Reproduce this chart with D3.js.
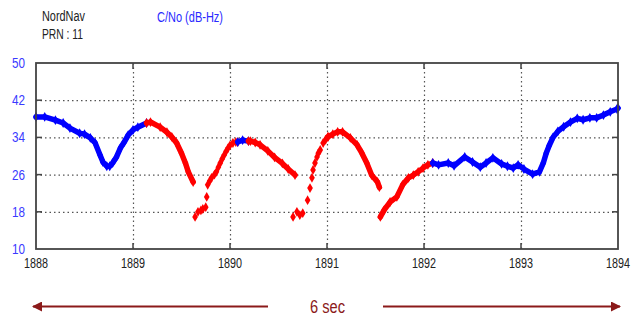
<html>
<script src="https://d3js.org/d3.v7.min.js"></script>
<style>
    body { margin: 0; background: #fff; }
    text { font-family: Arial, "Liberation Sans", sans-serif; }
    .grid line { stroke: #555; stroke-width: 1.2; stroke-dasharray: 1.5,3; }
    .grid path { stroke-width: 0; }
</style>
<body>
<svg id="chart" width=637 height=316></svg>
<script>
// C/No of PRN 11 over time (s); each segment keeps its colour
var xTicks = [1888, 1889, 1890, 1891, 1892, 1893, 1894];
var yTicks = [10, 18, 26, 34, 42, 50];

var blue1T = [1888.0, 1888.09, 1888.2, 1888.28, 1888.35, 1888.45, 1888.5, 1888.56, 1888.61, 1888.66, 1888.69, 1888.73, 1888.76, 1888.79, 1888.83, 1888.87, 1888.91, 1888.95, 1889.0, 1889.05, 1889.14];
var blue1V = [38.4, 38.4, 37.7, 37.1, 36.0, 34.9, 34.7, 33.9, 32.8, 30.2, 28.7, 27.8, 27.8, 28.5, 29.8, 31.7, 33.0, 34.5, 35.6, 36.2, 37.1];

var red1T = [1889.14, 1889.18, 1889.28, 1889.35, 1889.4, 1889.45, 1889.5, 1889.54, 1889.57, 1889.62];
var red1V = [37.1, 37.3, 36.2, 35.1, 34.1, 32.8, 30.6, 28.5, 26.6, 24.4];

var red1LowT = [1889.64, 1889.67, 1889.7, 1889.72, 1889.75, 1889.76];
var red1LowV = [16.9, 18.0, 18.3, 18.6, 19.0, 21.2];

var red1UpT = [1889.77, 1889.79, 1889.81, 1889.84, 1889.86, 1889.88, 1889.9, 1889.92, 1889.94, 1889.96, 1889.98, 1890.0, 1890.03, 1890.06, 1890.08];
var red1UpV = [23.8, 24.6, 25.3, 26.0, 26.6, 27.6, 28.5, 29.4, 30.2, 31.0, 31.7, 32.3, 32.8, 33.0, 33.0];

var blue2T = [1890.08, 1890.13, 1890.19];
var blue2V = [33.0, 33.4, 33.2];

var red2T = [1890.19, 1890.21, 1890.26, 1890.31, 1890.39, 1890.46, 1890.54, 1890.6, 1890.67];
var red2V = [33.2, 33.2, 32.9, 32.4, 31.1, 29.7, 28.4, 27.2, 25.9];

var red2LowT = [1890.65, 1890.69, 1890.72, 1890.75, 1890.8, 1890.825, 1890.845, 1890.856, 1890.876, 1890.897, 1890.91, 1890.93, 1890.96, 1890.985, 1891.01];
var red2LowV = [16.9, 18.0, 17.3, 17.7, 20.5, 23.1, 25.3, 27.0, 28.5, 29.8, 30.6, 31.3, 32.8, 33.5, 34.1];

var red3T = [1891.01, 1891.06, 1891.11, 1891.16, 1891.24, 1891.31, 1891.36, 1891.41, 1891.46, 1891.52, 1891.54];
var red3V = [34.1, 34.7, 35.2, 35.2, 33.9, 32.4, 30.6, 28.5, 25.9, 24.4, 23.3];

var red4T = [1891.55, 1891.59, 1891.65, 1891.72, 1891.78, 1891.84, 1891.89, 1891.94, 1891.99, 1892.04, 1892.09];
var red4V = [16.9, 18.4, 20.1, 21.2, 23.8, 25.3, 25.9, 26.6, 27.4, 28.1, 28.5];

var blue3T = [1892.09, 1892.15, 1892.25, 1892.31, 1892.42, 1892.5, 1892.58, 1892.64, 1892.71, 1892.8, 1892.86, 1892.92, 1892.97, 1893.03, 1893.12, 1893.19, 1893.23, 1893.26, 1893.29, 1893.33, 1893.38, 1893.44, 1893.51, 1893.58, 1893.64, 1893.71, 1893.78, 1893.85, 1893.92, 1893.99, 1894.0];
var blue3V = [28.5, 28.1, 28.5, 27.9, 29.8, 28.7, 27.6, 28.5, 29.6, 28.3, 27.8, 27.4, 28.1, 27.2, 26.1, 26.6, 28.5, 30.6, 32.2, 34.0, 35.3, 36.3, 37.3, 38.1, 37.8, 38.2, 38.2, 38.8, 39.5, 40.1, 40.3];

var segments = [
    {t: blue1T, v: blue1V, color: "#0000ff", joined: true},
    {t: red1T, v: red1V, color: "#ff0000", joined: true},
    {t: red1LowT, v: red1LowV, color: "#ff0000", joined: false},
    {t: red1UpT, v: red1UpV, color: "#ff0000", joined: false},
    {t: blue2T, v: blue2V, color: "#0000ff", joined: true},
    {t: red2T, v: red2V, color: "#ff0000", joined: true},
    {t: red2LowT, v: red2LowV, color: "#ff0000", joined: false},
    {t: red3T, v: red3V, color: "#ff0000", joined: true},
    {t: red4T, v: red4V, color: "#ff0000", joined: true},
    {t: blue3T, v: blue3V, color: "#0000ff", joined: true}
];

var margin = {top: 63, left: 36},
    width = 582,
    height = 186;

var svg = d3.select("#chart");
var g = svg.append("g")
    .attr("transform", "translate(" + margin.left + "," + margin.top + ")");

var x = d3.scaleLinear().domain([1888, 1894]).range([0, width]);
var y = d3.scaleLinear().domain([10, 50]).range([height, 0]);

// dotted grid
g.append("g")
    .attr("class", "grid")
    .attr("transform", "translate(0," + height + ")")
    .call(d3.axisBottom(x).tickValues(xTicks.slice(1, -1)).tickSize(-height).tickFormat(""));
g.append("g")
    .attr("class", "grid")
    .call(d3.axisLeft(y).tickValues(yTicks.slice(1, -1)).tickSize(-width).tickFormat(""));

// data
var line = d3.line()
    .x(function(d) { return x(d[0]); })
    .y(function(d) { return y(d[1]); });

segments.forEach(function(s) {
    var pts = s.t.map(function(t, i) { return [t, s.v[i]]; });
    if (s.joined) {
        g.append("path")
            .datum(pts)
            .attr("fill", "none")
            .attr("stroke", s.color)
            .attr("stroke-width", 5.5)
            .attr("stroke-linecap", "round")
            .attr("stroke-linejoin", "round")
            .attr("d", line);
    }
    g.selectAll(null)
        .data(pts)
        .enter().append("path")
        .attr("transform", function(d) { return "translate(" + x(d[0]) + "," + y(d[1]) + ")"; })
        .attr("d", d3.symbol().type(d3.symbolDiamond).size(28))
        .attr("fill", s.color);
});

// frame and inner ticks
g.append("rect")
    .attr("width", width).attr("height", height)
    .attr("fill", "none").attr("stroke", "#444").attr("stroke-width", 1.8);

xTicks.slice(1, -1).forEach(function(t) {
    g.append("line").attr("x1", x(t)).attr("x2", x(t)).attr("y1", height).attr("y2", height - 6)
        .attr("stroke", "#444").attr("stroke-width", 1.5);
    g.append("line").attr("x1", x(t)).attr("x2", x(t)).attr("y1", 0).attr("y2", 6)
        .attr("stroke", "#444").attr("stroke-width", 1.5);
});
yTicks.slice(1, -1).forEach(function(v) {
    g.append("line").attr("x1", 0).attr("x2", 6).attr("y1", y(v)).attr("y2", y(v))
        .attr("stroke", "#444").attr("stroke-width", 1.5);
    g.append("line").attr("x1", width - 6).attr("x2", width).attr("y1", y(v)).attr("y2", y(v))
        .attr("stroke", "#444").attr("stroke-width", 1.5);
});

// tick labels
g.selectAll(".xl")
    .data(xTicks)
    .enter().append("text")
    .attr("x", function(d) { return x(d); })
    .attr("y", height + 19)
    .attr("text-anchor", "middle")
    .attr("font-size", "14px")
    .attr("textLength", 24)
    .attr("lengthAdjust", "spacingAndGlyphs")
    .attr("fill", "#222")
    .text(function(d) { return d; });

g.selectAll(".yl")
    .data(yTicks)
    .enter().append("text")
    .attr("x", -11)
    .attr("y", function(d) { return y(d) + 5; })
    .attr("text-anchor", "end")
    .attr("font-size", "14px")
    .attr("textLength", 13)
    .attr("lengthAdjust", "spacingAndGlyphs")
    .attr("fill", "#3a3aff")
    .text(function(d) { return d; });

// header texts
svg.append("text").attr("x", 42).attr("y", 21).attr("font-size", "14px")
    .attr("textLength", 43).attr("lengthAdjust", "spacingAndGlyphs")
    .attr("fill", "#222").text("NordNav");
svg.append("text").attr("x", 42).attr("y", 39).attr("font-size", "14px")
    .attr("textLength", 41).attr("lengthAdjust", "spacingAndGlyphs")
    .attr("fill", "#222").text("PRN : 11");
svg.append("text").attr("x", 157).attr("y", 22).attr("font-size", "14px")
    .attr("textLength", 66).attr("lengthAdjust", "spacingAndGlyphs")
    .attr("fill", "#2a2aff").text("C/No (dB-Hz)");

// 6 sec span arrows
var arrowColor = "#8b1a1a";
var defs = svg.append("defs");
defs.append("marker")
    .attr("id", "head")
    .attr("viewBox", "0 0 10 10")
    .attr("refX", 9).attr("refY", 5)
    .attr("markerWidth", 5).attr("markerHeight", 5)
    .attr("markerUnits", "strokeWidth")
    .attr("orient", "auto")
    .append("path").attr("d", "M0,0 L10,5 L0,10 z").attr("fill", arrowColor);

svg.append("line")
    .attr("x1", 268).attr("y1", 306.5).attr("x2", 33).attr("y2", 306.5)
    .attr("stroke", arrowColor).attr("stroke-width", 2)
    .attr("marker-end", "url(#head)");
svg.append("line")
    .attr("x1", 383).attr("y1", 306.5).attr("x2", 620).attr("y2", 306.5)
    .attr("stroke", arrowColor).attr("stroke-width", 2)
    .attr("marker-end", "url(#head)");
svg.append("text").attr("x", 310).attr("y", 313).attr("font-size", "18px")
    .attr("textLength", 35).attr("lengthAdjust", "spacingAndGlyphs")
    .attr("fill", arrowColor).text("6 sec");
</script>
</body>
</html>
